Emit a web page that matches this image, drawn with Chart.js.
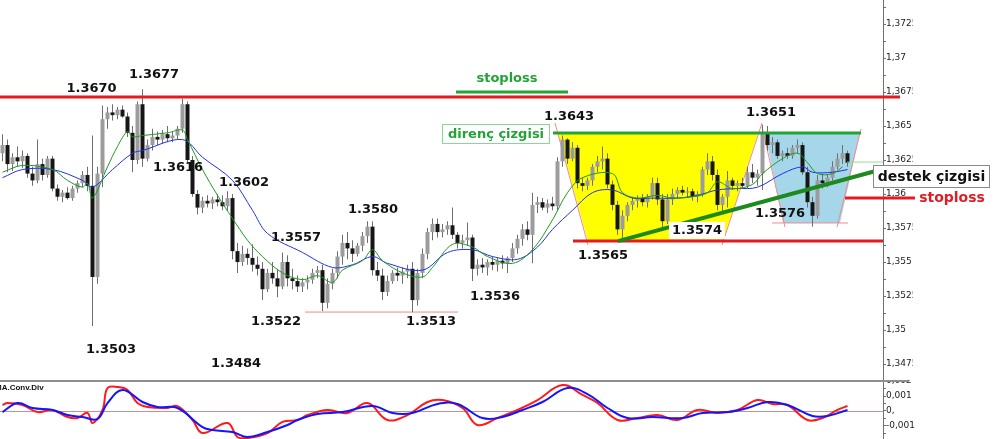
<!DOCTYPE html>
<html>
<head>
<meta charset="utf-8">
<script src="https://cdn.jsdelivr.net/npm/chart.js@4.4.0/dist/chart.umd.min.js"></script>
<style>
html, body { margin:0; padding:0; background:#fff; overflow:hidden; }
#wrap { position:relative; width:1000px; height:439px; }
#main { position:absolute; left:0; top:0; }
#macd { position:absolute; left:0; top:380px; }
</style>
</head>
<body>
<div id="wrap">
  <canvas id="main" width="1000" height="380"></canvas>
  <canvas id="macd" width="1000" height="59"></canvas>
</div>
<script>
// candles (one per bar)
var openP = [
1.3630,1.3636,1.3622,1.3627,1.3624,1.3628,1.3615,1.3610,1.3622,1.3614,
1.3626,1.3604,1.3598,1.3601,1.3597,1.3604,1.3608,1.3614,1.3606,1.3539,
1.3615,1.3655,1.3660,1.3658,1.3662,1.3657,1.3645,1.3625,1.3666,1.3626,
1.3636,1.3642,1.3640,1.3644,1.3641,1.3643,1.3648,1.3666,1.3625,1.3600,
1.3590,1.3595,1.3593,1.3596,1.3594,1.3591,1.3597,1.3558,1.3550,1.3556,
1.3553,1.3548,1.3545,1.3530,1.3542,1.3538,1.3532,1.3550,1.3538,1.3536,
1.3532,1.3535,1.3537,1.3542,1.3544,1.3520,1.3534,1.3542,1.3554,1.3564,
1.3560,1.3556,1.3562,1.3569,1.3576,1.3544,1.3540,1.3528,1.3536,1.3542,
1.3540,1.3543,1.3545,1.3522,1.3542,1.3556,1.3572,1.3578,1.3572,1.3574,
1.3577,1.3570,1.3564,1.3566,1.3568,1.3545,1.3548,1.3546,1.3550,1.3548,
1.3551,1.3549,1.3553,1.3560,1.3567,1.3574,1.3570,1.3592,1.3594,1.3590,
1.3593,1.3591,1.3624,1.3640,1.3626,1.3634,1.3608,1.3606,1.3610,1.3620,
1.3624,1.3626,1.3607,1.3592,1.3574,1.3584,1.3592,1.3595,1.3597,1.3594,
1.3598,1.3608,1.3596,1.3580,1.3596,1.3600,1.3603,1.3601,1.3602,1.3598,
1.3600,1.3618,1.3624,1.3614,1.3592,1.3598,1.3610,1.3606,1.3608,1.3606,
1.3616,1.3612,1.3615,1.3645,1.3636,1.3638,1.3628,1.3630,1.3628,1.3634,
1.3636,1.3616,1.3594,1.3584,1.3610,1.3608,1.3612,1.3620,1.3626,1.3630];
var highP = [
1.3644,1.3640,1.3630,1.3635,1.3632,1.3630,1.3620,1.3640,1.3626,1.3628,
1.3628,1.3607,1.3603,1.3605,1.3606,1.3610,1.3617,1.3620,1.3643,1.3620,
1.3665,1.3664,1.3666,1.3664,1.3665,1.3660,1.3650,1.3668,1.3677,1.3640,
1.3648,1.3646,1.3647,1.3650,1.3646,1.3650,1.3670,1.3668,1.3628,1.3603,
1.3598,1.3599,1.3598,1.3600,1.3599,1.3602,1.3600,1.3564,1.3562,1.3560,
1.3563,1.3554,1.3550,1.3545,1.3550,1.3545,1.3557,1.3555,1.3545,1.3540,
1.3538,1.3540,1.3545,1.3547,1.3548,1.3538,1.3545,1.3558,1.3570,1.3572,
1.3566,1.3564,1.3572,1.3580,1.3580,1.3550,1.3545,1.3540,1.3544,1.3546,
1.3546,1.3548,1.3550,1.3545,1.3560,1.3575,1.3582,1.3582,1.3578,1.3580,
1.3590,1.3572,1.3570,1.3579,1.3570,1.3552,1.3553,1.3552,1.3554,1.3553,
1.3555,1.3554,1.3564,1.3570,1.3578,1.3580,1.3601,1.3598,1.3597,1.3596,
1.3598,1.3627,1.3643,1.3641,1.3638,1.3636,1.3612,1.3612,1.3622,1.3628,
1.3635,1.3630,1.3610,1.3595,1.3588,1.3594,1.3598,1.3599,1.3600,1.3600,
1.3612,1.3612,1.3600,1.3600,1.3604,1.3605,1.3606,1.3605,1.3604,1.3602,
1.3620,1.3630,1.3628,1.3618,1.3600,1.3617,1.3612,1.3610,1.3612,1.3620,
1.3622,1.3618,1.3651,1.3650,1.3642,1.3640,1.3632,1.3634,1.3636,1.3640,
1.3638,1.3620,1.3598,1.3614,1.3615,1.3614,1.3624,1.3630,1.3636,1.3632];
var lowP = [
1.3624,1.3616,1.3617,1.3620,1.3619,1.3612,1.3606,1.3608,1.3610,1.3612,
1.3602,1.3595,1.3594,1.3596,1.3595,1.3601,1.3605,1.3602,1.3503,1.3534,
1.3605,1.3648,1.3654,1.3655,1.3656,1.3642,1.3616,1.3622,1.3620,1.3624,
1.3632,1.3636,1.3637,1.3638,1.3638,1.3640,1.3645,1.3622,1.3598,1.3585,
1.3586,1.3590,1.3589,1.3591,1.3588,1.3588,1.3552,1.3542,1.3547,1.3548,
1.3543,1.3540,1.3522,1.3528,1.3534,1.3524,1.3530,1.3532,1.3530,1.3528,
1.3528,1.3530,1.3534,1.3538,1.3514,1.3516,1.3530,1.3538,1.3548,1.3552,
1.3550,1.3554,1.3558,1.3564,1.3540,1.3536,1.3522,1.3525,1.3534,1.3536,
1.3534,1.3538,1.3513,1.3518,1.3538,1.3552,1.3566,1.3568,1.3568,1.3570,
1.3567,1.3560,1.3560,1.3562,1.3536,1.3540,1.3542,1.3540,1.3544,1.3543,
1.3545,1.3542,1.3550,1.3556,1.3562,1.3566,1.3549,1.3586,1.3588,1.3586,
1.3588,1.3588,1.3620,1.3622,1.3624,1.3604,1.3602,1.3603,1.3606,1.3616,
1.3618,1.3604,1.3588,1.3570,1.3565,1.3580,1.3588,1.3590,1.3591,1.3590,
1.3596,1.3592,1.3574,1.3578,1.3592,1.3597,1.3599,1.3597,1.3595,1.3594,
1.3598,1.3614,1.3610,1.3588,1.3586,1.3590,1.3603,1.3602,1.3604,1.3604,
1.3608,1.3606,1.3603,1.3632,1.3630,1.3626,1.3624,1.3626,1.3626,1.3630,
1.3614,1.3590,1.3576,1.3582,1.3604,1.3605,1.3610,1.3618,1.3622,1.3620];
var closeP = [
1.3636,1.3622,1.3627,1.3624,1.3628,1.3615,1.3610,1.3622,1.3614,1.3626,
1.3604,1.3598,1.3601,1.3597,1.3604,1.3608,1.3614,1.3606,1.3539,1.3615,
1.3655,1.3660,1.3658,1.3662,1.3657,1.3645,1.3625,1.3666,1.3626,1.3636,
1.3642,1.3640,1.3644,1.3641,1.3643,1.3648,1.3666,1.3625,1.3600,1.3590,
1.3595,1.3593,1.3596,1.3594,1.3591,1.3597,1.3558,1.3550,1.3556,1.3553,
1.3548,1.3545,1.3530,1.3542,1.3538,1.3532,1.3550,1.3538,1.3536,1.3532,
1.3535,1.3537,1.3542,1.3544,1.3520,1.3534,1.3542,1.3554,1.3564,1.3560,
1.3556,1.3562,1.3569,1.3576,1.3544,1.3540,1.3528,1.3536,1.3542,1.3540,
1.3543,1.3545,1.3522,1.3542,1.3556,1.3572,1.3578,1.3572,1.3574,1.3577,
1.3570,1.3564,1.3566,1.3568,1.3545,1.3548,1.3546,1.3550,1.3548,1.3551,
1.3549,1.3553,1.3560,1.3567,1.3574,1.3570,1.3592,1.3594,1.3590,1.3593,
1.3591,1.3624,1.3640,1.3626,1.3634,1.3608,1.3606,1.3610,1.3620,1.3624,
1.3626,1.3607,1.3592,1.3574,1.3584,1.3592,1.3595,1.3597,1.3594,1.3598,
1.3608,1.3596,1.3580,1.3596,1.3600,1.3603,1.3601,1.3602,1.3598,1.3600,
1.3618,1.3624,1.3614,1.3592,1.3598,1.3610,1.3606,1.3608,1.3606,1.3616,
1.3612,1.3615,1.3645,1.3636,1.3638,1.3628,1.3630,1.3628,1.3634,1.3636,
1.3616,1.3594,1.3584,1.3610,1.3608,1.3612,1.3620,1.3626,1.3630,1.3623];

// moving averages (bar index, price)
var greenIdx = [0,4,10,13,16,17,18,21,23,25,26,28,33,36,37,40,43,46,49,52,
  56,60,63,66,68,72,74,76,80,84,86,90,94,97,102,106,110,113,116,122,
  124,127,131,134,138,141,143,146,150,152,156,159,161,163,166,168];
var greenMA = [1.3616,1.3621,1.3618,1.3610,1.3605,1.3608,1.3597,1.3620,1.3635,1.3646,
  1.3642,1.3643,1.3645,1.3647,1.3640,1.3618,1.3599,1.3582,1.3566,1.3554,
  1.3542,1.3537,1.3540,1.3535,1.3544,1.3551,1.3559,1.3551,1.3542,1.3539,
  1.3546,1.3563,1.3561,1.3554,1.3549,1.3559,1.3581,1.3601,1.3612,1.3615,
  1.3601,1.3597,1.3599,1.3597,1.3598,1.3601,1.3609,1.3604,1.3607,1.3615,
  1.3626,1.3630,1.3623,1.3615,1.3615,1.3620];
var blueIdx = [0,4,10,16,18,22,26,28,36,40,46,50,53,60,66,70,74,77,84,89,
  94,98,103,107,110,114,118,122,126,130,135,139,143,147,151,156,160,162,166,169];
var blueMA = [1.3612,1.3618,1.3618,1.3610,1.3605,1.3618,1.3630,1.3632,1.3640,1.3627,
  1.3610,1.3588,1.3571,1.3557,1.3546,1.3548,1.3554,1.3549,1.3544,1.3557,
  1.3559,1.3554,1.3552,1.3561,1.3574,1.3588,1.3601,1.3603,1.3597,1.3597,
  1.3597,1.3599,1.3603,1.3604,1.3605,1.3615,1.3620,1.3616,1.3616,1.3618];

// MACD panel
var macdIdx = [0,1,4,7,10,13,15,17,18,20,21,23,25,27,29,33,35,38,40,45,
  47,49,53,56,59,61,65,69,73,77,81,85,88,92,95,99,103,107,112,116,
  119,123,127,131,135,139,143,147,151,154,157,161,164,167,169];
var macdMain = [0.0004,0.00053,0.0004,-0.00007,0.00007,-0.0004,-0.00047,-0.00013,-0.0008,0.00007,
  0.00153,0.0016,0.0014,0.00053,0.00027,0.0002,0.00033,-0.0006,-0.00147,-0.0008,
  -0.00173,-0.0018,-0.00147,-0.00073,-0.0006,-0.00027,0.00007,-0.00013,0.00053,-0.0006,
  -0.00027,0.0006,0.00073,0.0002,-0.00093,-0.00047,0.00007,0.00073,0.00173,0.00107,
  0.00053,-0.0006,-0.00047,-0.00027,-0.0006,0.00007,-0.00013,0.00007,0.00073,0.00047,
  0.0004,-0.0006,-0.00047,0.00007,0.00033];
var sigIdx = [0,3,6,10,13,16,19,21,24,28,31,35,40,42,46,49,53,57,59,63,
  68,74,78,82,87,91,96,100,104,108,113,117,121,125,130,136,140,145,149,153,
  157,162,165,169];
var macdSignal = [-0.00007,0.00053,0.0002,0.00007,-0.00027,-0.0004,-0.00053,0.00053,0.0014,0.0006,
  0.00027,0.0002,-0.00107,-0.00127,-0.0014,-0.00173,-0.0014,-0.00093,-0.0006,-0.0002,
  -0.00007,0.00033,-0.00013,-0.00013,0.00047,0.00047,-0.00047,-0.0004,0.00007,0.0006,
  0.00153,0.00113,0.0002,-0.00047,-0.0004,-0.00047,-0.00013,-0.00007,0.0002,0.0006,
  0.0004,-0.00033,-0.00033,0.00007];

var priceTicks = [1.3475,1.34875,1.35,1.35125,1.3525,1.35375,1.355,1.35625,1.3575,1.35875,
  1.36,1.36125,1.3625,1.36375,1.365,1.36625,1.3675,1.36875,1.37,1.37125,1.3725,1.37375];
var macdTicks = [-0.0015,-0.001,-0.0005,0,0.0005,0.001,0.0015,0.002];

var xMin = -0.5, xMax = 176.1;

// drawings on top of the price chart, in (bar index, price)
var zones = [
  {fill:'#ffff00', pts:[[111.1,1.36449],[151.1,1.36449],[144.1,1.35654],[117.1,1.35654]]},
  {fill:'#a6d6e9', pts:[[152.5,1.36449],[171.5,1.36449],[167.5,1.35787],[156.1,1.35787]]}
];
var edges = [
  [[110.5,1.36522],[117.1,1.35625]],
  [[151.9,1.36522],[143.9,1.35625]],
  [[151.9,1.36493],[156.5,1.35757]],
  [[171.7,1.36478],[166.9,1.35757]],
  [[153.9,1.35787],[169.1,1.35787]],
  [[60.5,1.35132],[91.1,1.35132]]
];
var levels = [
  {c:'#e31b23', w:3, a:[-0.5,1.36713], b:[179.5,1.36713]},
  {c:'#22a534', w:3, a:[90.7,1.3675], b:[113.1,1.3675]},
  {c:'#22a534', w:3, a:[110.1,1.36449], b:[171.7,1.36449]},
  {c:'#e31b23', w:3, a:[114.1,1.35654], b:[176.1,1.35654]},
  {c:'#8ee38e', w:1, a:[168.9,1.36235], b:[176.1,1.36235]},
  {c:'#e31b23', w:3, a:[168.5,1.35971], b:[182.5,1.35971]},
  {c:'#1d8a1d', w:4, a:[123.1,1.35654], b:[176.1,1.36184]}
];
var notes = [
  ['1.3670',17.8,1.36772], ['1.3677',30.3,1.36875], ['1.3616',35.1,1.36191],
  ['1.3602',48.3,1.36081], ['1.3557',58.7,1.35676], ['1.3580',74.1,1.35882],
  ['1.3522',54.7,1.35059], ['1.3513',85.7,1.35059], ['1.3503',21.7,1.34853],
  ['1.3484',46.7,1.3475],  ['1.3536',98.5,1.35243], ['1.3565',120.1,1.35544],
  ['1.3643',113.3,1.36566], ['1.3651',153.7,1.36596], ['1.3576',155.5,1.35853]
];

function pts(idx, vals) {
  return idx.map(function(x, k) { return {x:x, y:vals[k]}; });
}

function priceLabel(v) {
  var k = v * 400;
  if (Math.abs(k - Math.round(k)) > 1e-6) return '';
  return v.toFixed(4).replace(/0+$/, '').replace('.', ',');
}
function macdLabel(v) {
  var k = v * 1000;
  if (Math.abs(k - Math.round(k)) > 1e-6) return '';
  return v.toFixed(3).replace(/0+$/, '').replace('.', ',');
}

// right axis: fixed width, no extra padding above/below the plot
function fitAxis(s) {
  s.width = 117;
  s.paddingTop = 0;
  s.paddingBottom = 0;
}

var wicks = [], bodies = [], bodyColors = [];
for (var i = 0; i < openP.length; i++) {
  wicks.push({x:i, y:[lowP[i], highP[i]]});
  bodies.push({x:i, y:[openP[i], closeP[i]]});
  bodyColors.push(closeP[i] >= openP[i] ? '#9c9c9c' : '#161616');
}

var annot = {
  id: 'annot',
  beforeDatasetsDraw: function(chart) {
    var ctx = chart.ctx, xs = chart.scales.x, ys = chart.scales.y;
    ctx.save();
    zones.forEach(function(z) {
      ctx.beginPath();
      z.pts.forEach(function(p, k) {
        var px = xs.getPixelForValue(p[0]), py = ys.getPixelForValue(p[1]);
        if (k == 0) ctx.moveTo(px, py); else ctx.lineTo(px, py);
      });
      ctx.closePath();
      ctx.fillStyle = z.fill;
      ctx.fill();
    });
    ctx.strokeStyle = '#f08a8a';
    ctx.lineWidth = 1;
    edges.forEach(function(e) {
      ctx.beginPath();
      ctx.moveTo(xs.getPixelForValue(e[0][0]), ys.getPixelForValue(e[0][1]));
      ctx.lineTo(xs.getPixelForValue(e[1][0]), ys.getPixelForValue(e[1][1]));
      ctx.stroke();
    });
    ctx.restore();
  },
  afterDatasetsDraw: function(chart) {
    var ctx = chart.ctx, xs = chart.scales.x, ys = chart.scales.y;
    ctx.save();
    // the price labels are cut at the right edge in the original
    ctx.fillStyle = '#fff';
    ctx.fillRect(913, 0, 87, chart.height);

    levels.forEach(function(l) {
      ctx.beginPath();
      ctx.moveTo(xs.getPixelForValue(l.a[0]), ys.getPixelForValue(l.a[1]));
      ctx.lineTo(xs.getPixelForValue(l.b[0]), ys.getPixelForValue(l.b[1]));
      ctx.strokeStyle = l.c;
      ctx.lineWidth = l.w;
      ctx.stroke();
    });

    ctx.textAlign = 'center';
    ctx.textBaseline = 'middle';
    ctx.font = 'bold 13px "DejaVu Sans"';
    ctx.fillStyle = '#111';
    notes.forEach(function(n) {
      ctx.fillText(n[0], xs.getPixelForValue(n[1]), ys.getPixelForValue(n[2]));
    });

    function box(text, at, font, padX, h, fill, border, color) {
      ctx.font = font;
      var w = ctx.measureText(text).width + padX * 2;
      var cx = xs.getPixelForValue(at[0]), cy = ys.getPixelForValue(at[1]);
      ctx.fillStyle = fill;
      ctx.fillRect(Math.round(cx - w / 2), Math.round(cy - h / 2), Math.round(w), h);
      if (border) {
        ctx.strokeStyle = border;
        ctx.lineWidth = 1;
        ctx.strokeRect(Math.round(cx - w / 2) + 0.5, Math.round(cy - h / 2) + 0.5, Math.round(w) - 1, h - 1);
      }
      ctx.fillStyle = color;
      ctx.fillText(text, cx, cy + 1);
    }
    box('1.3574', [138.9, 1.35735], 'bold 13px "DejaVu Sans"', 3, 17, '#fff', null, '#111');
    box('direnç çizgisi', [98.7, 1.36441], 'bold 13px "DejaVu Sans"', 6, 20, '#fff', '#86d894', '#21a336');
    box('destek çizgisi', [185.8, 1.36129], 'bold 14px "DejaVu Sans"', 5, 23, '#fff', '#8a8a8a', '#111');

    ctx.font = 'bold 13px "DejaVu Sans"';
    ctx.fillStyle = '#21a336';
    ctx.fillText('stoploss', xs.getPixelForValue(100.9), ys.getPixelForValue(1.36846));
    ctx.font = 'bold 14px "DejaVu Sans"';
    ctx.fillStyle = '#e31b23';
    ctx.fillText('stoploss', xs.getPixelForValue(189.9), ys.getPixelForValue(1.35971));
    ctx.restore();
  }
};

var macdDeco = {
  id: 'macdDeco',
  beforeDatasetsDraw: function(chart) {
    var ctx = chart.ctx, ys = chart.scales.y, area = chart.chartArea;
    var y0 = Math.round(ys.getPixelForValue(0)) + 0.5;
    ctx.save();
    ctx.strokeStyle = '#c89090';
    ctx.lineWidth = 1;
    ctx.beginPath();
    ctx.moveTo(area.left, y0);
    ctx.lineTo(area.right, y0);
    ctx.stroke();
    ctx.restore();
  },
  afterDraw: function(chart) {
    var ctx = chart.ctx;
    ctx.save();
    ctx.fillStyle = '#8f8f8f';
    ctx.fillRect(0, 0, 908, 2);
    ctx.font = 'bold 8px "Liberation Sans"';
    ctx.fillStyle = '#111';
    ctx.textBaseline = 'middle';
    ctx.fillText('MA.Conv.Div', -5, 8);
    ctx.restore();
  }
};

new Chart(document.getElementById('main'), {
  type: 'bar',
  data: {
    datasets: [
      {type:'line', data:pts(greenIdx, greenMA), borderColor:'#1e9a1e', borderWidth:1, pointRadius:0, tension:0.35, fill:false},
      {type:'line', data:pts(blueIdx, blueMA), borderColor:'#2030f0', borderWidth:1, pointRadius:0, tension:0.35, fill:false},
      {data:bodies, backgroundColor:bodyColors, barThickness:4, grouped:false, inflateAmount:0, minBarLength:1},
      {data:wicks, backgroundColor:'#6e6e6e', barThickness:1, grouped:false, inflateAmount:0}
    ]
  },
  options: {
    responsive:false, animation:false, devicePixelRatio:1,
    layout:{padding:0, autoPadding:false},
    plugins:{legend:{display:false}, tooltip:{enabled:false}},
    scales: {
      x: {type:'linear', min:xMin, max:xMax, offset:false, display:false},
      y: {
        position:'right', min:1.346324, max:1.374265, bounds:'data',
        afterFit: fitAxis,
        afterBuildTicks: function(s) { s.ticks = priceTicks.map(function(v) { return {value:v}; }); },
        ticks: {autoSkip:false, padding:0, color:'#222', font:{family:'DejaVu Sans', size:9}, callback:priceLabel},
        grid: {drawOnChartArea:false, tickLength:3, color:'#707070'},
        border: {color:'#707070'}
      }
    }
  },
  plugins: [annot]
});

new Chart(document.getElementById('macd'), {
  type: 'line',
  data: {
    datasets: [
      {data:pts(sigIdx, macdSignal), borderColor:'#1414ff', borderWidth:2, pointRadius:0, tension:0.4, fill:false},
      {data:pts(macdIdx, macdMain), borderColor:'#ff1a1a', borderWidth:2, pointRadius:0, tension:0.4, fill:false}
    ]
  },
  options: {
    responsive:false, animation:false, devicePixelRatio:1,
    layout:{padding:0, autoPadding:false},
    plugins:{legend:{display:false}, tooltip:{enabled:false}},
    scales: {
      x: {type:'linear', min:xMin, max:xMax, offset:false, display:false},
      y: {
        position:'right', min:-0.0018667, max:0.0020667, bounds:'data',
        afterFit: fitAxis,
        afterBuildTicks: function(s) { s.ticks = macdTicks.map(function(v) { return {value:v}; }); },
        ticks: {autoSkip:false, padding:0, color:'#222', font:{family:'DejaVu Sans', size:9}, callback:macdLabel},
        grid: {drawOnChartArea:false, tickLength:3, color:'#707070'},
        border: {color:'#707070'}
      }
    }
  },
  plugins: [macdDeco]
});
</script>
</body>
</html>
